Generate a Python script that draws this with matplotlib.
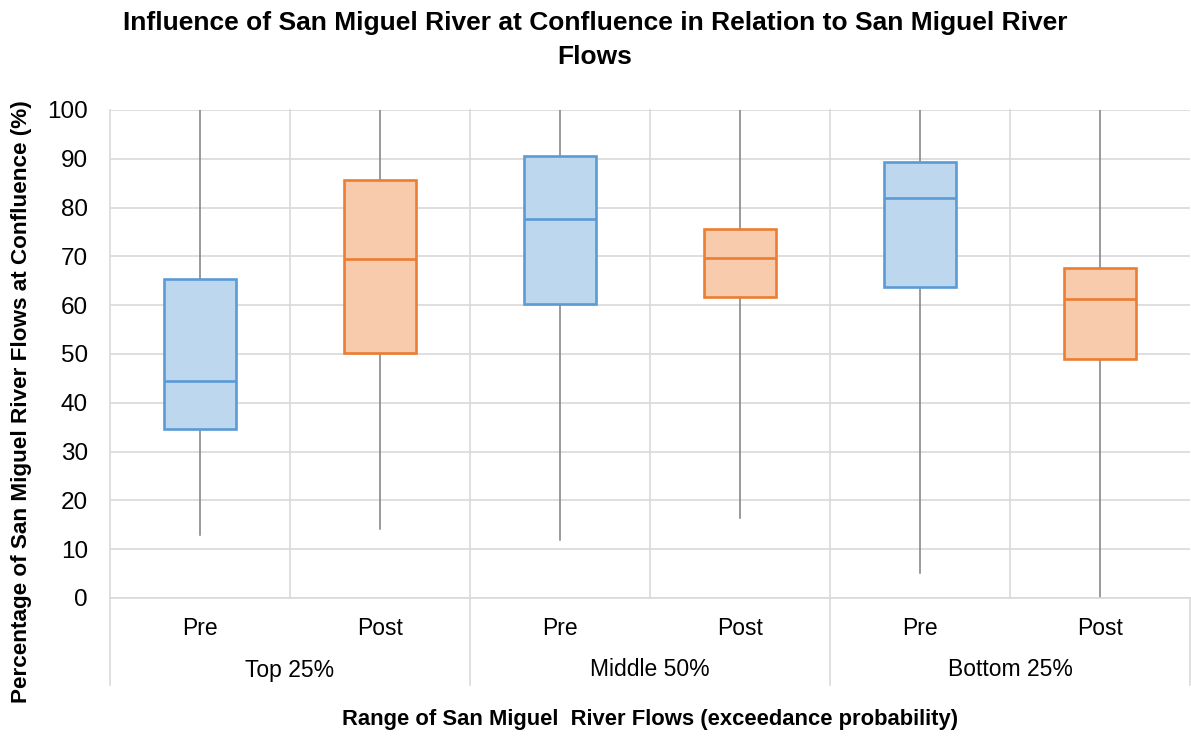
import matplotlib.pyplot as plt
from matplotlib.lines import Line2D

# values (percent)
groups = ["Top 25%", "Middle 50%", "Bottom 25%"]
periods = ["Pre", "Post"]
whislo = [12.9, 14.1, 11.9, 16.4, 5.1, 0.0]
q1 = [34.6, 50.2, 60.2, 61.7, 63.7, 49.0]
med = [44.5, 69.5, 77.7, 69.7, 82.0, 61.3]
q3 = [65.4, 85.7, 90.6, 75.6, 89.3, 67.6]
whishi = [100, 100, 100, 100, 100, 100]

blue_edge, blue_fill = "#5b9bd5", "#bdd7ee"
orange_edge, orange_fill = "#ed7d31", "#f8cbad"
grid_col = "#d9d9d9"

plt.rcParams["font.family"] = ["Liberation Sans", "DejaVu Sans"]

fig = plt.figure(figsize=(11.91, 7.53), dpi=100)
ax = fig.add_axes([110 / 1191, 1 - 598 / 753, 1080 / 1191, 488 / 753])

stats = []
for i in range(6):
    stats.append({"whislo": whislo[i], "q1": q1[i], "med": med[i],
                  "q3": q3[i], "whishi": whishi[i], "fliers": []})

pos = list(range(6))
bp = ax.bxp(stats, positions=pos, widths=0.4, showcaps=False,
            showfliers=False, patch_artist=True, zorder=3)
for i, box in enumerate(bp["boxes"]):
    edge = blue_edge if i % 2 == 0 else orange_edge
    fill = blue_fill if i % 2 == 0 else orange_fill
    box.set_facecolor(fill)
    box.set_edgecolor(edge)
    box.set_linewidth(1.9)
    bp["medians"][i].set_color(edge)
    bp["medians"][i].set_linewidth(1.9)
for w in bp["whiskers"]:
    w.set_color("#7f7f7f")
    w.set_linewidth(1.1)
    w.set_zorder(2)

ax.set_xlim(-0.5, 5.5)
ax.set_ylim(0, 100)
ax.set_yticks(range(0, 101, 10))
ax.yaxis.grid(True, color=grid_col, linewidth=1.2, zorder=0)
for b in [-0.5, 0.5, 1.5, 2.5, 3.5, 4.5]:
    ax.axvline(b, color=grid_col, linewidth=1.2, zorder=0, clip_on=False)
ax.set_axisbelow(True)

for s in ["top", "right", "left"]:
    ax.spines[s].set_visible(False)
ax.spines["bottom"].set_color(grid_col)
ax.spines["bottom"].set_linewidth(1.2)

ax.set_xticks(pos)
ax.set_xticklabels(periods * 3, fontsize=16.5)
ax.tick_params(axis="x", length=0, pad=14)
ax.tick_params(axis="y", length=0, labelsize=17.5, pad=16)

# group labels and separators below the axis
for g, name in enumerate(groups):
    ax.text(2 * g + 0.5, -72 / 488, name, transform=ax.get_xaxis_transform(),
            ha="center", va="center", fontsize=16.5)
for b in [-0.5, 1.5, 3.5, 5.5]:
    ax.add_line(Line2D([b, b], [0, -87 / 488], transform=ax.get_xaxis_transform(),
                       color=grid_col, linewidth=1.2, clip_on=False))

fig.text(595 / 1191, 1 - 40 / 753,
         "Influence of San Miguel River at Confluence in Relation to San Miguel River\nFlows",
         ha="center", va="center", fontsize=19, fontweight="bold",
         linespacing=1.55)
fig.text(22 / 1191, 1 - 402 / 753,
         "Percentage of San Miguel River Flows at Confluence (%)",
         ha="center", va="center", rotation=90, fontsize=16.2, fontweight="bold")
fig.text(650 / 1191, 1 - 720 / 753,
         "Range of San Miguel  River Flows (exceedance probability)",
         ha="center", va="center", fontsize=15.8, fontweight="bold")

fig.savefig("out.png", dpi=100)
